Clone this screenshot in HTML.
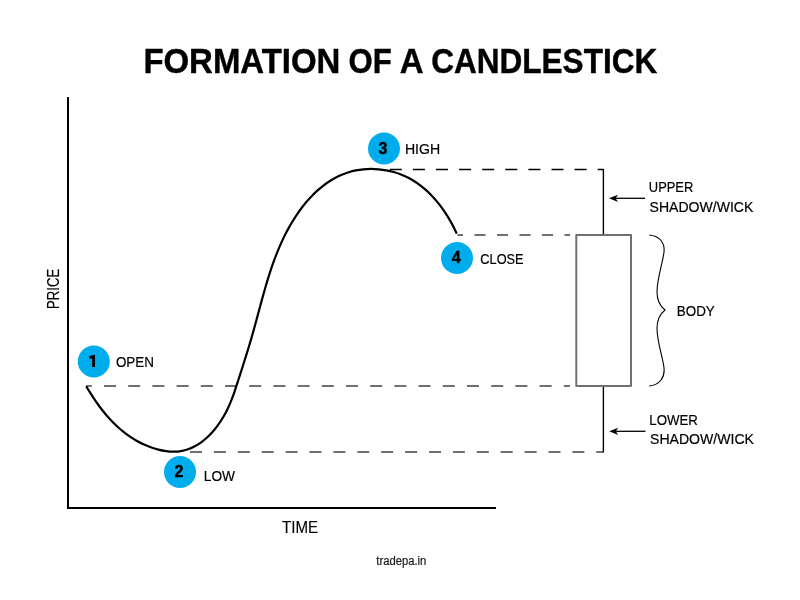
<!DOCTYPE html>
<html><head><meta charset="utf-8"><style>
html,body{margin:0;padding:0;background:#fff;width:800px;height:600px;overflow:hidden}
svg{display:block;will-change:transform}
text{font-family:"Liberation Sans",sans-serif}
</style></head><body>
<svg width="800" height="600" viewBox="0 0 800 600">
<rect x="0" y="0" width="800" height="600" fill="#fff"/>
<g font-size="34.5" font-weight="bold" fill="#000" stroke="#000" stroke-width="0.4">
<text x="143.40" y="73.00" textLength="196.96" lengthAdjust="spacingAndGlyphs">FORMATION</text>
<text x="348.52" y="73.00" textLength="43.24" lengthAdjust="spacingAndGlyphs">OF</text>
<text x="399.80" y="73.00" textLength="23.84" lengthAdjust="spacingAndGlyphs">A</text>
<text x="431.14" y="73.00" textLength="226.16" lengthAdjust="spacingAndGlyphs">CANDLESTICK</text>
</g>
<path d="M68 97 V508 H496" fill="none" stroke="#000" stroke-width="2"/>
<line x1="86" y1="386" x2="570" y2="386" stroke="#707070" stroke-width="2" stroke-dasharray="12 12.2" stroke-dashoffset="6.2"/>
<line x1="190" y1="452" x2="603" y2="452" stroke="#707070" stroke-width="2" stroke-dasharray="12 11.9"/>
<line x1="457.5" y1="235" x2="570" y2="235" stroke="#707070" stroke-width="2" stroke-dasharray="5.5 11.5 11 11.5 11 11.5 11 11.5 11 11.5 11 11.5"/>
<line x1="389.8" y1="169.5" x2="603.5" y2="169.5" stroke="#000" stroke-width="1.3" stroke-dasharray="12 11.1"/>
<path d="M86.20 386.20 C87.43 388.29 88.69 390.37 89.99 392.45 C91.29 394.53 92.62 396.60 94.00 398.65 C95.38 400.70 96.79 402.73 98.25 404.75 C99.71 406.76 101.21 408.74 102.76 410.70 C104.31 412.65 105.91 414.57 107.55 416.45 C109.20 418.34 110.90 420.18 112.65 421.97 C114.41 423.76 116.21 425.51 118.08 427.20 C119.95 428.89 121.87 430.52 123.86 432.09 C125.84 433.66 127.89 435.16 130.00 436.59 C132.11 438.03 134.29 439.39 136.54 440.67 C138.79 441.95 141.11 443.15 143.49 444.26 C145.88 445.38 148.32 446.39 150.81 447.30 C153.29 448.20 155.82 448.98 158.36 449.63 C160.90 450.28 163.46 450.79 166.00 451.13 C168.55 451.48 171.09 451.66 173.60 451.66 C176.11 451.66 178.59 451.48 181.02 451.09 C183.44 450.70 185.81 450.09 188.11 449.29 C190.41 448.49 192.66 447.50 194.83 446.34 C197.00 445.17 199.11 443.84 201.14 442.36 C203.18 440.88 205.14 439.26 207.03 437.52 C208.92 435.78 210.73 433.91 212.46 431.95 C214.20 430.00 215.85 427.94 217.42 425.82 C218.99 423.69 220.47 421.49 221.87 419.25 C223.27 417.01 224.58 414.72 225.80 412.41 C227.02 410.10 228.14 407.77 229.18 405.43 C230.22 403.09 231.18 400.74 232.08 398.38 C232.98 396.03 233.83 393.67 234.64 391.30 C235.45 388.94 236.23 386.57 236.99 384.21 C237.75 381.84 238.50 379.48 239.26 377.12 C240.02 374.76 240.77 372.40 241.53 370.04 C242.29 367.68 243.04 365.33 243.79 362.97 C244.54 360.61 245.29 358.25 246.03 355.89 C246.77 353.53 247.51 351.16 248.23 348.79 C248.96 346.42 249.67 344.04 250.38 341.65 C251.09 339.27 251.78 336.87 252.46 334.47 C253.15 332.07 253.82 329.65 254.48 327.23 C255.15 324.82 255.81 322.39 256.46 319.96 C257.12 317.53 257.77 315.10 258.42 312.66 C259.07 310.22 259.73 307.78 260.39 305.34 C261.05 302.90 261.71 300.46 262.38 298.02 C263.06 295.58 263.74 293.14 264.43 290.70 C265.13 288.26 265.84 285.83 266.56 283.40 C267.28 280.97 268.03 278.55 268.79 276.13 C269.55 273.72 270.33 271.31 271.14 268.91 C271.95 266.51 272.78 264.12 273.64 261.74 C274.50 259.36 275.39 256.99 276.31 254.63 C277.23 252.27 278.18 249.93 279.18 247.60 C280.17 245.27 281.19 242.96 282.26 240.66 C283.33 238.36 284.44 236.08 285.59 233.82 C286.74 231.55 287.94 229.31 289.18 227.09 C290.43 224.86 291.72 222.66 293.07 220.48 C294.41 218.30 295.81 216.15 297.25 214.03 C298.70 211.91 300.19 209.83 301.74 207.79 C303.29 205.75 304.89 203.76 306.54 201.82 C308.18 199.88 309.88 197.99 311.63 196.17 C313.38 194.34 315.19 192.58 317.04 190.90 C318.89 189.21 320.79 187.60 322.75 186.07 C324.70 184.53 326.71 183.08 328.76 181.73 C330.82 180.37 332.93 179.10 335.08 177.94 C337.24 176.77 339.45 175.71 341.71 174.75 C343.97 173.80 346.28 172.95 348.65 172.23 C351.01 171.51 353.43 170.90 355.88 170.42 C358.34 169.94 360.83 169.58 363.35 169.33 C365.86 169.09 368.40 168.97 370.95 168.96 C373.50 168.95 376.05 169.06 378.60 169.29 C381.15 169.52 383.69 169.86 386.21 170.32 C388.72 170.78 391.22 171.35 393.68 172.04 C396.13 172.73 398.55 173.53 400.91 174.44 C403.28 175.36 405.59 176.38 407.83 177.52 C410.08 178.65 412.26 179.89 414.38 181.23 C416.49 182.57 418.55 184.01 420.54 185.53 C422.54 187.06 424.47 188.67 426.34 190.36 C428.21 192.05 430.02 193.81 431.77 195.64 C433.52 197.47 435.20 199.37 436.83 201.33 C438.45 203.28 440.02 205.29 441.52 207.35 C443.03 209.41 444.47 211.51 445.85 213.65 C447.24 215.79 448.56 217.96 449.83 220.16 C451.09 222.37 452.29 224.59 453.44 226.84 C454.58 229.08 455.67 231.34 456.70 233.60" fill="none" stroke="#000" stroke-width="2.2"/>
<line x1="603.4" y1="169" x2="603.4" y2="235" stroke="#000" stroke-width="1.4"/>
<line x1="603.4" y1="386" x2="603.4" y2="452.5" stroke="#000" stroke-width="1.4"/>
<rect x="576.3" y="235" width="54.7" height="151" fill="none" stroke="#707070" stroke-width="2" stroke-linejoin="round"/>
<line x1="614" y1="198.3" x2="645" y2="198.3" stroke="#000" stroke-width="1.3"/>
<path d="M609 198.3 L618 194.7 L615.6 198.3 L618 201.9 Z" fill="#000"/>
<line x1="614" y1="431.3" x2="645.5" y2="431.3" stroke="#000" stroke-width="1.3"/>
<path d="M609.2 431.3 L618.2 427.7 L615.8 431.3 L618.2 434.9 Z" fill="#000"/>
<path d="M649.2 235 C660 236 665 243 664 252 C663 262 657 278 657 292 C657 300 660 306 665 310 C660 314 657 320 657 328 C657 342 663 358 664 368 C665 377 660 385 649.2 386" fill="none" stroke="#000" stroke-width="1.1"/>
<g fill="#00adec">
<circle cx="93.8" cy="361.5" r="16"/>
<circle cx="180" cy="472" r="16"/>
<circle cx="384" cy="148.5" r="16"/>
<circle cx="457" cy="258" r="16"/>
</g>
<g font-weight="bold" font-size="16" fill="#000" stroke="#000" stroke-width="0.45" text-anchor="middle">
<path d="M92.7 355 H95 V366.9 H92.15 V358.7 L89.6 358.4 L89.3 356.2 Z" stroke="none"/>
<text x="179" y="477.2">2</text>
<text x="383" y="154">3</text>
<text x="456.3" y="262.6">4</text>
</g>
<g font-size="15.5" fill="#000" stroke="#000" stroke-width="0.2">
<text x="115.92" y="367.00" textLength="38.12" lengthAdjust="spacingAndGlyphs">OPEN</text>
<text x="203.80" y="480.90" textLength="31.20" lengthAdjust="spacingAndGlyphs">LOW</text>
<text x="404.88" y="153.80" textLength="35.24" lengthAdjust="spacingAndGlyphs">HIGH</text>
<text x="480.36" y="263.50" textLength="43.20" lengthAdjust="spacingAndGlyphs">CLOSE</text>
<text x="648.80" y="192.10" textLength="44.52" lengthAdjust="spacingAndGlyphs">UPPER</text>
<text x="649.60" y="211.50" textLength="103.80" lengthAdjust="spacingAndGlyphs">SHADOW/WICK</text>
<text x="676.80" y="315.90" textLength="37.96" lengthAdjust="spacingAndGlyphs">BODY</text>
<text x="649.30" y="424.50" textLength="48.66" lengthAdjust="spacingAndGlyphs">LOWER</text>
<text x="650.00" y="443.90" textLength="104.00" lengthAdjust="spacingAndGlyphs">SHADOW/WICK</text>
</g>
<text x="282" y="532.6" font-size="17" fill="#000" stroke="#000" stroke-width="0.15" textLength="36" lengthAdjust="spacingAndGlyphs">TIME</text>
<text transform="translate(58.8 309) rotate(-90)" x="0" y="0" font-size="17" fill="#000" stroke="#000" stroke-width="0.15" textLength="40.2" lengthAdjust="spacingAndGlyphs">PRICE</text>
<text x="376.3" y="565" font-size="12" fill="#1a1a1a" stroke="#1a1a1a" stroke-width="0.2" textLength="50" lengthAdjust="spacingAndGlyphs">tradepa.in</text>
</svg>
</body></html>
